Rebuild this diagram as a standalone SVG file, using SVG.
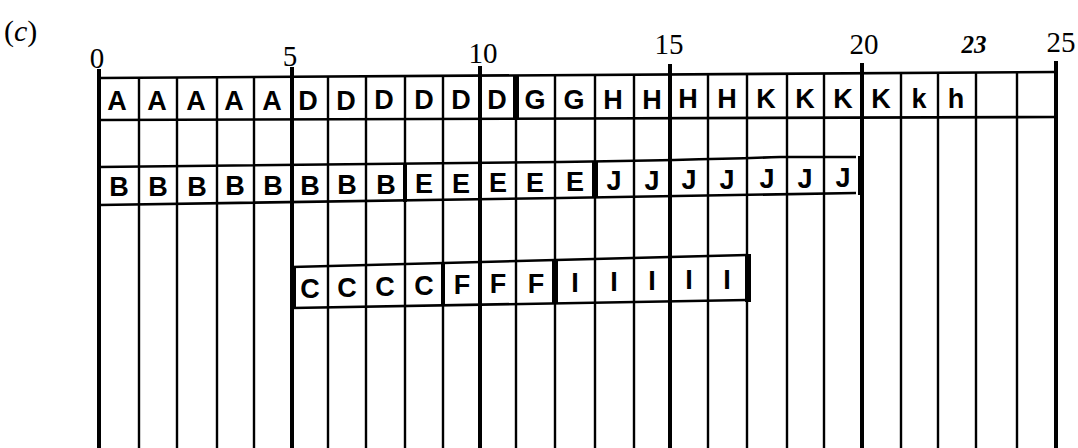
<svg xmlns="http://www.w3.org/2000/svg" width="1078" height="448" viewBox="0 0 1078 448">
<style>
.ax{font-family:"Liberation Serif",serif;font-size:29px;fill:#000;text-anchor:middle}
.hand{font-family:"Liberation Sans",Arial,sans-serif;font-size:27px;font-weight:bold;fill:#000;text-anchor:middle}
.thin{stroke:#000;stroke-width:2.4;fill:none}
.thick{stroke:#000;stroke-width:4;fill:none}
.mark{stroke:#000;stroke-width:6;fill:none}
.box{stroke:#000;stroke-width:2.6;fill:none}
</style>
<rect width="1078" height="448" fill="#fff"/>
<text x="4" y="41" style="font-family:'Liberation Serif',serif;font-size:30px">(<tspan font-style="italic">c</tspan>)</text>
<g id="axis-labels">
<text class="ax" x="97" y="68">0</text>
<text class="ax" x="290" y="66">5</text>
<text class="ax" x="483" y="63">10</text>
<text class="ax" x="669" y="54">15</text>
<text class="ax" x="864" y="54">20</text>
<text x="974" y="53" style="font-family:'Liberation Serif',serif;font-size:25px;font-weight:bold;font-style:italic;text-anchor:middle">23</text>
<text class="ax" x="1061" y="52">25</text>
</g>
<g id="grid">
<path class="thick" d="M99 69 V448"/>
<line class="thin" x1="139" y1="78" x2="139" y2="448"/>
<line class="thin" x1="177" y1="77.5" x2="177" y2="448"/>
<line class="thin" x1="217" y1="77.3" x2="217" y2="448"/>
<line class="thin" x1="254" y1="77" x2="254" y2="448"/>
<path class="thick" d="M292 67 V448"/>
<line class="thin" x1="328" y1="76.6" x2="328" y2="448"/>
<line class="thin" x1="366" y1="76.3" x2="366" y2="448"/>
<line class="thin" x1="405" y1="76.1" x2="405" y2="448"/>
<line class="thin" x1="443" y1="75.8" x2="443" y2="448"/>
<path class="thick" d="M480 66 V448"/>
<line class="thin" x1="516" y1="75.4" x2="516" y2="448"/>
<line class="thin" x1="555" y1="75.1" x2="555" y2="448"/>
<line class="thin" x1="595" y1="74.9" x2="595" y2="448"/>
<line class="thin" x1="634" y1="74.6" x2="634" y2="448"/>
<path class="thick" d="M670 64 V448"/>
<line class="thin" x1="708" y1="74.2" x2="708" y2="448"/>
<line class="thin" x1="747" y1="73.9" x2="747" y2="448"/>
<line class="thin" x1="787" y1="73.7" x2="787" y2="448"/>
<line class="thin" x1="824" y1="73.4" x2="824" y2="448"/>
<path class="thick" d="M862 63 V448"/>
<line class="thin" x1="901" y1="73" x2="901" y2="448"/>
<line class="thin" x1="938" y1="72.7" x2="938" y2="448"/>
<line class="thin" x1="976" y1="72.5" x2="976" y2="448"/>
<line class="thin" x1="1017" y1="72.2" x2="1017" y2="448"/>
<path class="thick" d="M1056 61 V448"/>
</g>
<g id="row-A">
<path class="box" d="M99 78 L1056 72"/>
<path class="box" d="M99 120 L1056 117"/>
<path class="mark" d="M516 76 V119"/>
<text class="hand" x="117" y="110">A</text>
<text class="hand" x="157" y="110">A</text>
<text class="hand" x="196" y="110">A</text>
<text class="hand" x="234" y="110">A</text>
<text class="hand" x="272" y="110">A</text>
<text class="hand" x="308" y="110">D</text>
<text class="hand" x="346" y="110">D</text>
<text class="hand" x="384" y="109">D</text>
<text class="hand" x="424" y="109">D</text>
<text class="hand" x="461" y="109">D</text>
<text class="hand" x="497" y="109">D</text>
<text class="hand" x="535" y="109">G</text>
<text class="hand" x="574" y="109">G</text>
<text class="hand" x="613" y="109">H</text>
<text class="hand" x="652" y="109">H</text>
<text class="hand" x="688" y="108">H</text>
<text class="hand" x="727" y="108">H</text>
<text class="hand" x="766" y="108">K</text>
<text class="hand" x="805" y="108">K</text>
<text class="hand" x="843" y="108">K</text>
<text class="hand" x="881" y="108">K</text>
<text class="hand" x="919" y="108">k</text>
<text class="hand" x="956" y="108">h</text>
</g>
<g id="row-B">
<path class="box" d="M99 167 L560 162 Q700 160 780 157 L856 157"/>
<path class="box" d="M99 205 L560 198 L856 193"/>
<path class="box" d="M99 167 V205"/>
<path class="thick" d="M860 156 V195"/>
<path class="mark" d="M595 161 V198"/>
<path class="thick" d="M405 164 V202"/>
<text class="hand" x="119" y="196">B</text>
<text class="hand" x="158" y="196">B</text>
<text class="hand" x="197" y="196">B</text>
<text class="hand" x="235" y="195">B</text>
<text class="hand" x="273" y="195">B</text>
<text class="hand" x="310" y="195">B</text>
<text class="hand" x="347" y="194">B</text>
<text class="hand" x="386" y="194">B</text>
<text class="hand" x="424" y="193">E</text>
<text class="hand" x="461" y="193">E</text>
<text class="hand" x="498" y="192">E</text>
<text class="hand" x="535" y="192">E</text>
<text class="hand" x="575" y="191">E</text>
<text class="hand" x="614" y="190">J</text>
<text class="hand" x="652" y="190">J</text>
<text class="hand" x="689" y="189">J</text>
<text class="hand" x="727" y="189">J</text>
<text class="hand" x="767" y="188">J</text>
<text class="hand" x="805" y="188">J</text>
<text class="hand" x="843" y="187">J</text>
</g>
<g id="row-C">
<path class="box" d="M292 267 L747 255"/>
<path class="box" d="M292 308 L747 300"/>
<path class="thick" d="M294 266 V309"/>
<path class="mark" d="M748 254 V302"/>
<path class="thick" d="M443 263 V306"/>
<path class="mark" d="M555 260 V304"/>
<text class="hand" x="310" y="298">C</text>
<text class="hand" x="347" y="297">C</text>
<text class="hand" x="385" y="296">C</text>
<text class="hand" x="424" y="295">C</text>
<text class="hand" x="462" y="294">F</text>
<text class="hand" x="498" y="293">F</text>
<text class="hand" x="536" y="293">F</text>
<text class="hand" x="575" y="292">I</text>
<text class="hand" x="614" y="291">I</text>
<text class="hand" x="652" y="290">I</text>
<text class="hand" x="689" y="289">I</text>
<text class="hand" x="727" y="289">I</text>
</g>
</svg>
